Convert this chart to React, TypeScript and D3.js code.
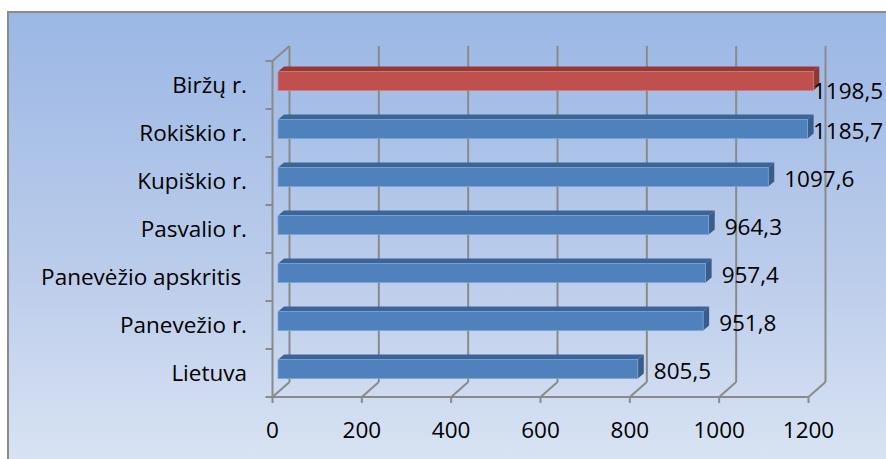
import React from "react";
import * as d3 from "d3";

const categories = ["Biržų r.", "Rokiškio r.", "Kupiškio r.", "Pasvalio r.", "Panevėžio apskritis ", "Panevežio r.", "Lietuva"];
const values = [1198.5, 1185.7, 1097.6, 964.3, 957.4, 951.8, 805.5];
const valueLabels = ["1198,5", "1185,7", "1097,6", "964,3", "957,4", "951,8", "805,5"];
const highlighted = ["Biržų r."];
const xTicks = [0, 200, 400, 600, 800, 1000, 1200];

const W = 886;
const H = 459;
const FONT = "'Open Sans', sans-serif";
const FS = 22.5;
const GRID = "#8a8a8a";

export default function App() {
  const x = d3.scaleLinear().domain([0, 1200]).range([272.5, 808.5]);
  const y = d3.scaleBand<string>().domain(categories).range([61, 397]);
  const bw = y.bandwidth();
  const depth = { dx: 17, dy: -15 };
  const bar = { dx: 6, dy: -5, off: 5.5, top: 10.5, h: 19 };
  const yTop = y.range()[0];
  const yBot = y.range()[1];
  const labelMaxX = 813;

  return (
    <svg width={W} height={H} style={{ position: "absolute", left: 0, top: 0 }} fontFamily={FONT}>
      <defs>
        <linearGradient id="bg" x1="0" y1="0" x2="0" y2="1">
          <stop offset="0" stopColor="#9bb7e5" />
          <stop offset="0.55" stopColor="#bccdeb" />
          <stop offset="1" stopColor="#dde6f4" />
        </linearGradient>
      </defs>
      <rect x={0} y={0} width={W} height={H} fill="#ffffff" />
      <rect x={8} y={12} width={W + 20} height={H + 20} fill="url(#bg)" stroke="#8c8c8c" strokeWidth={2} />

      {/* back wall gridlines and floor diagonals */}
      {xTicks.map((t) => (
        <g key={"g" + t}>
          <line x1={x(t) + depth.dx} x2={x(t) + depth.dx} y1={yTop + depth.dy} y2={yBot + depth.dy} stroke={GRID} strokeWidth={2} />
          <line x1={x(t)} x2={x(t) + depth.dx} y1={yBot} y2={yBot + depth.dy} stroke={GRID} strokeWidth={2} />
          <line x1={x(t)} x2={x(t)} y1={yBot} y2={yBot + 6} stroke={GRID} strokeWidth={2} />
          <text x={x(t)} y={429} textAnchor="middle" dominantBaseline="central" fontSize={FS} fill="#000">
            {t}
          </text>
        </g>
      ))}
      {/* left wall top diagonal */}
      <line x1={x(0)} x2={x(0) + depth.dx} y1={yTop} y2={yTop + depth.dy} stroke={GRID} strokeWidth={2} />
      {/* front axes */}
      <line x1={x(0)} x2={x(0)} y1={yTop} y2={yBot} stroke={GRID} strokeWidth={2} />
      <line x1={x(0)} x2={x(1200)} y1={yBot} y2={yBot} stroke={GRID} strokeWidth={2} />
      {[...categories.map((c) => y(c) as number), yBot].map((v, i) => (
        <line key={"t" + i} x1={x(0) - 7} x2={x(0)} y1={v} y2={v} stroke={GRID} strokeWidth={2} />
      ))}

      {/* bars */}
      {categories.map((c, i) => {
        const v = values[i];
        const red = highlighted.includes(c);
        const front = red ? "#c0504d" : "#4f81bd";
        const topC = red ? "#953937" : "#3c6597";
        const sideC = red ? "#8c3836" : "#385d8a";
        const edge = red ? "#d27d7a" : "#7ea3d2";
        const x0 = x(0) + bar.off;
        const x1 = x(v) + bar.off;
        const y0 = (y(c) as number) + bar.top;
        const y1 = y0 + bar.h;
        const topPts = [[x0, y0], [x0 + bar.dx, y0 + bar.dy], [x1 + bar.dx, y0 + bar.dy], [x1, y0]];
        const sidePts = [[x1, y0], [x1 + bar.dx, y0 + bar.dy], [x1 + bar.dx, y1 + bar.dy], [x1, y1]];
        const natural = x1 + bar.dx + 10;
        const lx = Math.min(natural, labelMaxX);
        const overlap = x1 + bar.dx - lx;
        const ly = (y0 + y1) / 2 + 1 + (overlap > 3 ? 8 : 0);
        return (
          <g key={c}>
            <polygon points={topPts.map((p) => p.join(",")).join(" ")} fill={topC} />
            <polygon points={sidePts.map((p) => p.join(",")).join(" ")} fill={sideC} />
            <rect x={x0} y={y0} width={x1 - x0} height={y1 - y0} fill={front} stroke={edge} strokeWidth={0.8} />
            <text x={lx} y={ly} dominantBaseline="central" fontSize={FS} fill="#000">
              {valueLabels[i]}
            </text>
            <text x={247} y={(y(c) as number) + bw / 2 - 1} textAnchor="end" dominantBaseline="central" fontSize={FS} fill="#000" xmlSpace="preserve" style={{ whiteSpace: "pre" }}>
              {c}
            </text>
          </g>
        );
      })}
    </svg>
  );
}
